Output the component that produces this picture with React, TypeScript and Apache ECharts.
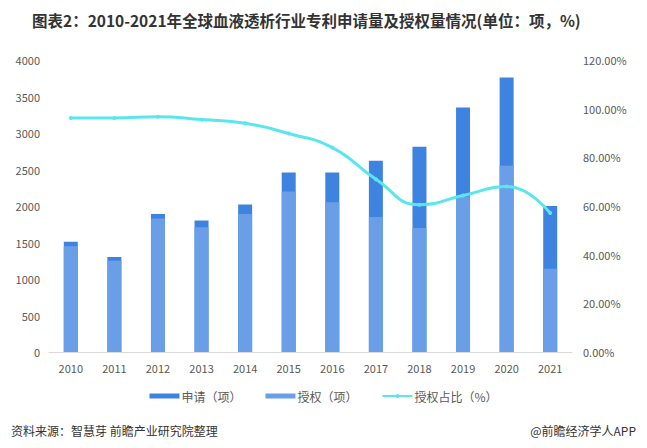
import React, { useEffect, useRef } from "react";
import * as echarts from "echarts";

const years = ["2010", "2011", "2012", "2013", "2014", "2015", "2016", "2017", "2018", "2019", "2020", "2021"];
const applications = [1510, 1300, 1890, 1800, 2020, 2460, 2460, 2620, 2810, 3350, 3760, 2000];
const grants = [1450, 1250, 1830, 1710, 1890, 2200, 2050, 1850, 1700, 2130, 2550, 1140];
const grantRatio = [96.2, 96.2, 96.7, 95.5, 94.0, 89.8, 84.0, 71.0, 60.5, 64.3, 68.0, 57.1];
const leftTicks = [0, 4000, 500];
const rightTicks = [0, 120, 20];

const FONT = "'Noto Sans CJK SC', 'Noto Sans', sans-serif";

export default function App() {
  const ref = useRef<HTMLDivElement>(null);
  useEffect(() => {
    if (!ref.current) return;
    const chart = echarts.init(ref.current, undefined, { renderer: "svg" });
    chart.setOption({
      animation: false,
      backgroundColor: "#ffffff",
      textStyle: { fontFamily: FONT },
      title: [
        {
          text: "图表2：2010-2021年全球血液透析行业专利申请量及授权量情况(单位：项，%)",
          left: 27,
          top: 7,
          textStyle: { fontSize: 15.5, fontWeight: "bold", color: "#333333", fontFamily: FONT },
        },
        {
          text: "资料来源：智慧芽 前瞻产业研究院整理",
          left: 6,
          top: 419,
          textStyle: { fontSize: 12, fontWeight: "normal", color: "#333333", fontFamily: FONT },
        },
        {
          text: "@前瞻经济学人APP",
          right: 6,
          top: 419,
          textStyle: { fontSize: 12, fontWeight: "normal", color: "#333333", fontFamily: FONT },
        },
      ],
      legend: {
        left: "center",
        top: 385,
        itemGap: 24,
        itemWidth: 30,
        itemHeight: 5,
        textStyle: { fontSize: 12, color: "#595959", fontFamily: FONT, padding: [0, 0, 0, -3] },
        data: [
          { name: "申请（项）", icon: "rect" },
          { name: "授权（项）", icon: "rect" },
          { name: "授权占比（%）" },
        ],
      },
      grid: { left: 49, right: 75, top: 60, bottom: 96, containLabel: false },
      xAxis: {
        type: "category",
        data: years,
        axisLine: { lineStyle: { color: "#d9d9d9" } },
        axisTick: { show: false },
        axisLabel: { color: "#595959", fontSize: 11, margin: 10 },
      },
      yAxis: [
        {
          type: "value",
          min: leftTicks[0],
          max: leftTicks[1],
          interval: leftTicks[2],
          splitLine: { show: false },
          axisLine: { show: false },
          axisTick: { show: false },
          axisLabel: { color: "#595959", fontSize: 11, margin: 9, formatter: (v: number) => String(v) },
        },
        {
          type: "value",
          min: rightTicks[0],
          max: rightTicks[1],
          interval: rightTicks[2],
          splitLine: { show: false },
          axisLine: { show: false },
          axisTick: { show: false },
          axisLabel: {
            color: "#595959",
            fontSize: 11,
            margin: 11,
            formatter: (v: number) => v.toFixed(2) + "%",
          },
        },
      ],
      series: [
        {
          name: "申请（项）",
          type: "bar",
          data: applications,
          barWidth: 14,
          barGap: "-100%",
          itemStyle: { color: "#3f83e0" },
        },
        {
          name: "授权（项）",
          type: "bar",
          data: grants,
          barWidth: 14,
          barGap: "-100%",
          itemStyle: { color: "#6a9fe8" },
        },
        {
          name: "授权占比（%）",
          type: "line",
          yAxisIndex: 1,
          data: grantRatio,
          smooth: true,
          symbol: "circle",
          symbolSize: 4,
          lineStyle: { color: "#5ae6ee", width: 3 },
          itemStyle: { color: "#5ae6ee" },
        },
      ],
    });
    return () => chart.dispose();
  }, []);
  return <div ref={ref} style={{ width: 647, height: 448, position: "absolute", left: 0, top: 0 }} />;
}
